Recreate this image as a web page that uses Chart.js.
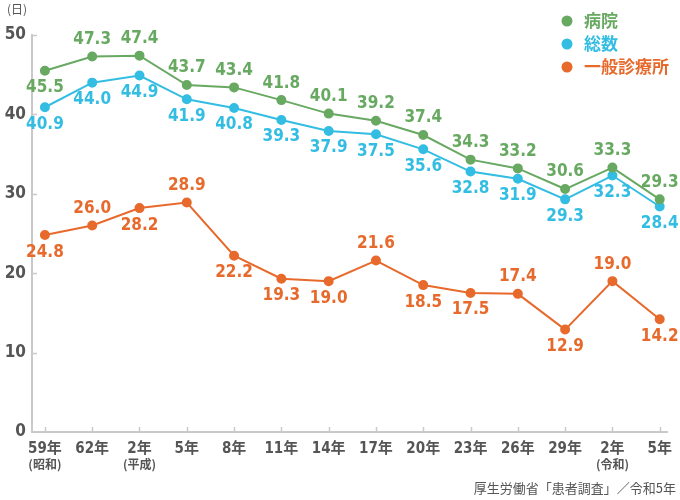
<!DOCTYPE html>
<html>
<head>
<meta charset="utf-8">
<script src="https://cdn.jsdelivr.net/npm/chart.js@4.4.0/dist/chart.umd.min.js"></script>
<style>
  html, body { margin: 0; padding: 0; background: #fff; }
  #wrap { width: 680px; height: 500px; position: relative; }
</style>
</head>
<body>
<div id="wrap"><canvas id="chart" width="680" height="500"></canvas></div>
<script>
// 年次
const years = ["59年", "62年", "2年", "5年", "8年", "11年", "14年", "17年", "20年", "23年", "26年", "29年", "2年", "5年"];
const eras = ["(昭和)", "", "(平成)", "", "", "", "", "", "", "", "", "", "(令和)", ""];

// 平均在院日数など（日）
const byoin = [45.5, 47.3, 47.4, 43.7, 43.4, 41.8, 40.1, 39.2, 37.4, 34.3, 33.2, 30.6, 33.3, 29.3];
const sosu = [40.9, 44.0, 44.9, 41.9, 40.8, 39.3, 37.9, 37.5, 35.6, 32.8, 31.9, 29.3, 32.3, 28.4];
const shinryojo = [24.8, 26.0, 28.2, 28.9, 22.2, 19.3, 19.0, 21.6, 18.5, 17.5, 17.4, 12.9, 19.0, 14.2];

// ラベルの上下 (a = 上, b = 下)
const posByoin = ["b", "a", "a", "a", "a", "a", "a", "a", "a", "a", "a", "a", "a", "a"];
const posSosu = ["b", "b", "b", "b", "b", "b", "b", "b", "b", "b", "b", "b", "b", "b"];
const posShinryojo = ["b", "a", "b", "a", "b", "b", "b", "a", "b", "b", "a", "b", "a", "b"];

const GREEN = "#68a962", BLUE = "#33bde2", ORANGE = "#e76a2c";
const AXIS = "#c9c9c9", TEXT = "#555555";
const NUMFONT = '"DejaVu Sans Condensed", "Noto Sans CJK JP", sans-serif';
const JPFONT = '"Noto Sans CJK JP", sans-serif';

function pts(arr) { return arr.map((v, i) => ({ x: i, y: v })); }

function series(label, arr, color, pos) {
  return {
    label: label, data: pts(arr), pos: pos,
    borderColor: color, backgroundColor: color,
    borderWidth: 2, pointRadius: 4, pointHoverRadius: 4, tension: 0
  };
}

const decor = {
  id: "decor",
  afterDraw(chart) {
    const c = chart.ctx, xs = chart.scales.x, ys = chart.scales.y, a = chart.chartArea;
    c.save();
    // 内向きの目盛り
    c.strokeStyle = AXIS; c.lineWidth = 1.5;
    years.forEach((_, i) => {
      const px = Math.round(xs.getPixelForValue(i)) + 0.5;
      c.beginPath(); c.moveTo(px, a.bottom); c.lineTo(px, a.bottom - 5); c.stroke();
    });
    for (let v = 10; v <= 50; v += 10) {
      const py = Math.round(ys.getPixelForValue(v)) + 0.5;
      c.beginPath(); c.moveTo(a.left, py); c.lineTo(a.left + 5, py); c.stroke();
    }
    // 元号
    c.fillStyle = TEXT; c.textAlign = "center"; c.textBaseline = "middle";
    c.font = "bold 12px " + JPFONT;
    eras.forEach((e, i) => { if (e) c.fillText(e, xs.getPixelForValue(i), 464); });
    // 数値ラベル
    c.font = "bold 17px " + NUMFONT;
    chart.data.datasets.forEach((ds, di) => {
      const meta = chart.getDatasetMeta(di);
      c.fillStyle = ds.borderColor;
      meta.data.forEach((p, i) => {
        const dy = ds.pos[i] === "a" ? -17 : 17;
        c.fillText(ds.data[i].y.toFixed(1), p.x, p.y + dy);
      });
    });
    // 凡例
    c.textAlign = "left";
    chart.data.datasets.forEach((ds, di) => {
      const y = 21 + di * 23;
      c.fillStyle = ds.borderColor;
      c.beginPath(); c.arc(567, y, 5.5, 0, Math.PI * 2); c.fill();
      c.font = "bold 17px " + JPFONT;
      c.fillText(ds.label, 584, y);
    });
    // 単位と出典
    c.fillStyle = TEXT;
    c.font = "12px " + JPFONT;
    c.fillText("(日)", 7, 9);
    c.textAlign = "right";
    c.font = "13px " + JPFONT;
    c.fillText("厚生労働省「患者調査」／令和5年", 676, 488);
    c.restore();
  }
};

const chart = new Chart(document.getElementById("chart").getContext("2d"), {
  type: "line",
  data: {
    datasets: [
      series("病院", byoin, GREEN, posByoin),
      series("総数", sosu, BLUE, posSosu),
      series("一般診療所", shinryojo, ORANGE, posShinryojo)
    ]
  },
  options: {
    responsive: false, animation: false,
    layout: { padding: { top: 35, right: 8, left: 0, bottom: 0 } },
    plugins: { legend: { display: false }, tooltip: { enabled: false } },
    scales: {
      x: {
        type: "linear", min: -0.273, max: 13.17,
        afterFit(s) { s.height = 68; },
        afterBuildTicks(s) { s.ticks = years.map((_, i) => ({ value: i })); },
        grid: { display: false, drawTicks: false },
        border: { color: AXIS, width: 2 },
        ticks: {
          padding: 8, color: TEXT, maxRotation: 0, autoSkip: false,
          font: { family: NUMFONT, size: 15, weight: "bold" },
          callback: (v) => years[v]
        }
      },
      y: {
        min: 0, max: 50,
        afterFit(s) { s.width = 32; },
        grid: { display: false, drawTicks: false },
        border: { color: AXIS, width: 2 },
        ticks: {
          stepSize: 10, padding: 6, color: TEXT,
          font: { family: NUMFONT, size: 17, weight: "bold" }
        }
      }
    }
  },
  plugins: [decor]
});
</script>
</body>
</html>
